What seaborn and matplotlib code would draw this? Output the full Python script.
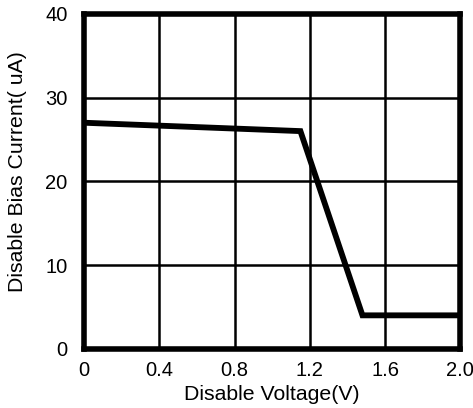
import numpy as np
import pandas as pd
import matplotlib
matplotlib.use("Agg")
import matplotlib.pyplot as plt
import seaborn as sns

# Disable bias current vs disable voltage
voltage = [0.0, 1.15, 1.48, 2.0]
current = [27.0, 26.0, 4.0, 4.0]
x_ticks = [0, 0.4, 0.8, 1.2, 1.6, 2.0]
x_tick_labels = ["0", "0.4", "0.8", "1.2", "1.6", "2.0"]
y_ticks = [0, 10, 20, 30, 40]

sns.set_theme(style="white")
plt.rcParams['font.family'] = ['Liberation Sans', 'DejaVu Sans']

df = pd.DataFrame({"Voltage": voltage, "Current": current})

fig = plt.figure(figsize=(4.73, 4.08), dpi=100)
ax = fig.add_axes([0.178, 0.145, 0.795, 0.821])

sns.lineplot(data=df, x="Voltage", y="Current", ax=ax, color="black",
             linewidth=4.2, solid_joinstyle="miter")

ax.set_xlim(0, 2.0)
ax.set_ylim(0, 40)
ax.set_xticks(x_ticks)
ax.set_xticklabels(x_tick_labels)
ax.set_yticks(y_ticks)
ax.grid(True, color="black", linewidth=1.8)
ax.set_axisbelow(True)
for s in ax.spines.values():
    s.set_visible(True)
    s.set_color("black")
    s.set_linewidth(4.0)

ax.tick_params(axis="both", length=0, labelsize=14.5, colors="black")
ax.tick_params(axis="x", pad=9)
ax.tick_params(axis="y", pad=12)
ax.set_xlabel("Disable Voltage(V)", fontsize=15.3, color="black", labelpad=3)
ax.set_ylabel("Disable Bias Current( uA)", fontsize=15.3, color="black")
ax.yaxis.set_label_coords(-0.152, 0.53)

fig.savefig("out.png", dpi=100)
